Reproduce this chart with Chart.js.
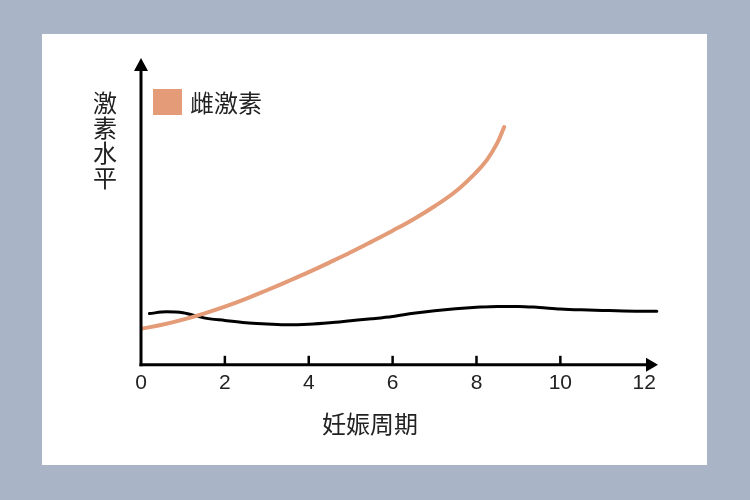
<!DOCTYPE html>
<html>
<head>
<meta charset="utf-8">
<script src="https://cdn.jsdelivr.net/npm/chart.js@4"></script>
<style>
html,body{margin:0;padding:0;width:750px;height:500px;background:#a9b4c6;overflow:hidden;}
#panel{position:absolute;left:42px;top:34px;width:665px;height:431px;background:#ffffff;}
</style>
</head>
<body>
<div id="panel"><canvas id="c"></canvas></div>
<script>
// ---- data ----
const estrogenX = [0, 0.5, 1, 1.5, 2, 2.5, 3, 3.5, 4, 4.5, 5, 5.5, 6, 6.5, 7, 7.5, 8, 8.25, 8.5, 8.66];
const estrogenY = [12.5, 13.9, 15.7, 17.8, 20.2, 22.9, 25.9, 29.0, 32.2, 35.6, 39.1, 42.8, 46.6, 50.6, 55.1, 60.2, 67.0, 71.2, 77.2, 82.6];
const otherX = [0.2, 0.6, 1.0, 1.5, 2, 2.5, 3, 3.5, 4, 4.5, 5, 5.5, 6, 6.5, 7, 7.5, 8, 8.5, 9, 9.5, 10, 10.5, 11, 11.5, 12, 12.3];
const otherY = [17.8, 18.4, 18.1, 16.3, 15.4, 14.6, 14.2, 13.9, 14.1, 14.6, 15.3, 16.0, 16.8, 17.9, 18.8, 19.5, 20.0, 20.3, 20.3, 19.9, 19.4, 19.1, 18.9, 18.7, 18.6, 18.6];
const xTickValues = [0, 2, 4, 6, 8, 10, 12];
const innerTicks = [2, 4, 6, 8, 10];
const legendLabel = '雌激素';
const yTitleChars = ['激', '素', '水', '平'];
const xTitle = '妊娠周期';

const ORANGE = '#e49b78';
const CJK = '"Noto Sans CJK SC", "Noto Sans", sans-serif';

const toPts = (xs, ys) => xs.map((x, i) => ({x: x, y: ys[i]}));

const axesPlugin = {
  id: 'axesPlugin',
  afterDraw(chart) {
    const ctx = chart.ctx;
    const a = chart.chartArea;
    const xs = chart.scales.x, ys = chart.scales.y;
    const ox = a.left, oy = ys.getPixelForValue(0);
    ctx.save();
    ctx.strokeStyle = '#000';
    ctx.fillStyle = '#000';
    ctx.lineWidth = 3;
    // y axis
    const yTip = a.top - 19;
    ctx.beginPath();
    ctx.moveTo(ox, oy + 1.5);
    ctx.lineTo(ox, yTip + 8);
    ctx.stroke();
    ctx.beginPath();
    ctx.moveTo(ox, yTip);
    ctx.lineTo(ox - 7, yTip + 13);
    ctx.lineTo(ox + 7, yTip + 13);
    ctx.closePath();
    ctx.fill();
    // x axis
    const xTip = a.right - 3;
    ctx.beginPath();
    ctx.moveTo(ox - 1.5, oy);
    ctx.lineTo(xTip - 8, oy);
    ctx.stroke();
    ctx.beginPath();
    ctx.moveTo(xTip, oy);
    ctx.lineTo(xTip - 12, oy - 7);
    ctx.lineTo(xTip - 12, oy + 7);
    ctx.closePath();
    ctx.fill();
    // inner ticks
    ctx.lineWidth = 2.5;
    innerTicks.forEach(v => {
      const px = xs.getPixelForValue(v);
      ctx.beginPath();
      ctx.moveTo(px, oy);
      ctx.lineTo(px, oy - 9);
      ctx.stroke();
    });
    // legend
    ctx.fillStyle = ORANGE;
    ctx.fillRect(ox + 12, a.top + 12, 29, 26);
    ctx.fillStyle = '#222';
    ctx.font = '24px ' + CJK;
    ctx.textAlign = 'left';
    ctx.textBaseline = 'middle';
    ctx.fillText(legendLabel, ox + 49, a.top + 26);
    // y title (stacked)
    ctx.textAlign = 'center';
    yTitleChars.forEach((ch, i) => {
      ctx.fillText(ch, ox - 36, a.top + 26 + i * 25);
    });
    // x title
    ctx.fillText(xTitle, ox + 229, oy + 59);
    ctx.restore();
  }
};

new Chart(document.getElementById('c'), {
  type: 'line',
  data: {
    datasets: [
      {
        label: legendLabel,
        data: toPts(estrogenX, estrogenY),
        borderColor: ORANGE,
        backgroundColor: ORANGE,
        borderWidth: 4,
        pointRadius: 0,
        tension: 0.4,
        borderCapStyle: 'round'
      },
      {
        label: '',
        data: toPts(otherX, otherY),
        borderColor: '#000',
        backgroundColor: '#000',
        borderWidth: 3,
        pointRadius: 0,
        cubicInterpolationMode: 'monotone',
        borderCapStyle: 'round'
      }
    ]
  },
  options: {
    responsive: true,
    maintainAspectRatio: false,
    animation: false,
    layout: { padding: { left: 99, right: 46, top: 43, bottom: 63 } },
    plugins: {
      tooltip: { enabled: false },
      legend: { display: false }
    },
    scales: {
      x: {
        type: 'linear',
        min: 0,
        max: 12.4,
        grid: { display: false, drawTicks: false },
        border: { display: false },
        afterBuildTicks(scale) { scale.ticks = xTickValues.map(v => ({ value: v })); },
        ticks: {
          padding: 6,
          color: '#222',
          font: { size: 21, family: '"Liberation Sans", Arial, sans-serif' },
          maxRotation: 0,
          autoSkip: false
        }
      },
      y: {
        display: false,
        min: 0,
        max: 100
      }
    }
  },
  plugins: [axesPlugin]
});
</script>
</body>
</html>
